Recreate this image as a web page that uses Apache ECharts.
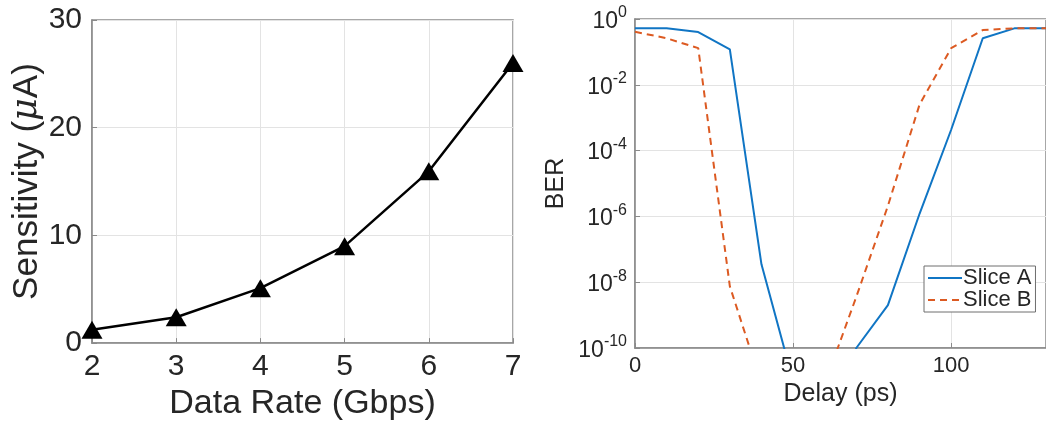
<!DOCTYPE html>
<html>
<head>
<meta charset="utf-8">
<script src="https://cdn.jsdelivr.net/npm/echarts@6/dist/echarts.min.js"></script>
<style>
html,body{margin:0;padding:0;background:#fff;}
#chart{width:1046px;height:426px;}
</style>
</head>
<body>
<div id="chart"></div>
<script>
// Left panel data
const dataRates = [2, 3, 4, 5, 6, 7];
const sensitivity = [1.23, 2.4, 5.1, 9.0, 15.95, 26.0];
// Right panel data
const delays = [0, 10, 20, 30, 40, 50, 60, 70, 80, 90, 100, 110, 120, 130];
const sliceA = [0.52, 0.52, 0.40, 0.12, 3.5e-8, 1e-11, 1e-13, 1e-10, 2.0e-9, 1.2e-6, 4.3e-4, 0.26, 0.52, 0.52];
const sliceB = [0.41, 0.26, 0.13, 7.5e-9, 8e-12, 1e-15, 8e-12, 3.6e-9, 2.1e-6, 2.5e-3, 0.13, 0.46, 0.52, 0.52];
const seriesNames = ['Slice A', 'Slice B'];

const FONT = "'Liberation Sans', Arial, Helvetica, sans-serif";
const TXT = '#262626';
const AXC = '#8a8a8a';
const GRIDC = '#e3e3e3';
const BLUE = '#1075c4';
const ORANGE = '#dc5a22';

const chart = echarts.init(document.getElementById('chart'), null, {renderer: 'canvas'});

function supLabel(v) {
  const e = Math.round(Math.log10(v));
  return '{b|10}{s|' + e + '}';
}

const option = {
  backgroundColor: '#fff',
  animation: false,
  textStyle: {fontFamily: FONT, color: TXT},
  grid: [
    {left: 92, top: 20, width: 421, height: 326, show: true, borderColor: AXC, borderWidth: 1.5, containLabel: false},
    {left: 635, top: 19, width: 418.6, height: 329, show: true, borderColor: AXC, borderWidth: 1.5, containLabel: false}
  ],
  legend: {
    data: seriesNames,
    orient: 'vertical',
    left: 924,
    top: 266,
    itemWidth: 34,
    itemHeight: 10,
    itemGap: 0,
    padding: [1, 4, 1, 3],
    backgroundColor: '#fff',
    borderColor: '#6e6e6e',
    borderWidth: 1,
    borderRadius: 0,
    itemStyle: {opacity: 0},
    textStyle: {fontFamily: FONT, fontSize: 22, color: TXT, lineHeight: 22, padding: [0, 0, 0, -4]}
  },
  xAxis: [
    {
      gridIndex: 0, type: 'value', min: 2, max: 7, interval: 1,
      name: 'Data Rate (Gbps)', nameLocation: 'middle', nameGap: 42,
      nameTextStyle: {fontSize: 34, color: TXT, fontFamily: FONT},
      axisLine: {show: true, lineStyle: {color: AXC, width: 1.5}},
      axisTick: {show: true, inside: true, length: 5, lineStyle: {color: AXC}},
      axisLabel: {fontSize: 30, color: TXT, margin: 9, fontFamily: FONT},
      splitLine: {show: true, lineStyle: {color: GRIDC, width: 1}}
    },
    {
      gridIndex: 1, type: 'value', min: 0, max: 130, interval: 50,
      name: 'Delay (ps)', nameLocation: 'middle', nameGap: 31,
      nameTextStyle: {fontSize: 25, color: TXT, fontFamily: FONT},
      axisLine: {show: true, lineStyle: {color: AXC, width: 1.5}},
      axisTick: {show: true, inside: true, length: 5, lineStyle: {color: AXC}},
      axisLabel: {fontSize: 22, color: TXT, margin: 7, fontFamily: FONT, showMaxLabel: false},
      splitLine: {show: true, lineStyle: {color: GRIDC, width: 1}}
    }
  ],
  yAxis: [
    {
      gridIndex: 0, type: 'value', min: 0, max: 30, interval: 10,
      name: '{n|Sensitivity (}{m|\u03bc}{n|A)}', nameLocation: 'middle', nameGap: 46, nameRotate: 90,
      nameTextStyle: {
        fontSize: 35, color: TXT, fontFamily: FONT,
        rich: {
          n: {fontSize: 35, color: TXT, fontFamily: FONT},
          m: {fontSize: 35, color: TXT, fontFamily: "'DejaVu Serif', 'Liberation Serif', serif", fontStyle: 'italic'}
        }
      },
      axisLine: {show: true, lineStyle: {color: AXC, width: 1.5}},
      axisTick: {show: true, inside: true, length: 5, lineStyle: {color: AXC}},
      axisLabel: {fontSize: 30, color: TXT, margin: 10, fontFamily: FONT},
      splitLine: {show: true, lineStyle: {color: GRIDC, width: 1}}
    },
    {
      gridIndex: 1, type: 'log', logBase: 10, min: 1e-10, max: 1, interval: 2,
      name: 'BER', nameLocation: 'middle', nameGap: 66, nameRotate: 90,
      nameTextStyle: {fontSize: 25, color: TXT, fontFamily: FONT},
      axisLine: {show: true, lineStyle: {color: AXC, width: 1.5}},
      axisTick: {show: true, inside: true, length: 5, lineStyle: {color: AXC}},
      axisLabel: {
        margin: 8, fontFamily: FONT, color: TXT,
        formatter: supLabel,
        rich: {
          b: {fontSize: 23, color: TXT, fontFamily: FONT, verticalAlign: 'bottom', lineHeight: 28},
          s: {fontSize: 16, color: TXT, fontFamily: FONT, verticalAlign: 'top', lineHeight: 16}
        }
      },
      splitLine: {show: true, lineStyle: {color: GRIDC, width: 1}}
    }
  ],
  series: [
    {
      type: 'line', xAxisIndex: 0, yAxisIndex: 0,
      data: dataRates.map((x, i) => [x, sensitivity[i]]),
      symbol: 'triangle', symbolSize: [21, 18],
      lineStyle: {color: '#000', width: 2.5},
      itemStyle: {color: '#000'},
      clip: false
    },
    {
      name: seriesNames[0], type: 'line', xAxisIndex: 1, yAxisIndex: 1,
      data: delays.map((x, i) => [x, sliceA[i]]),
      symbol: 'none', clip: true,
      lineStyle: {color: BLUE, width: 2},
      itemStyle: {color: BLUE}
    },
    {
      name: seriesNames[1], type: 'line', xAxisIndex: 1, yAxisIndex: 1,
      data: delays.map((x, i) => [x, sliceB[i]]),
      symbol: 'none', clip: true,
      lineStyle: {color: ORANGE, width: 2, type: [7, 5]},
      itemStyle: {color: ORANGE}
    }
  ]
};
chart.setOption(option);
</script>
</body>
</html>
